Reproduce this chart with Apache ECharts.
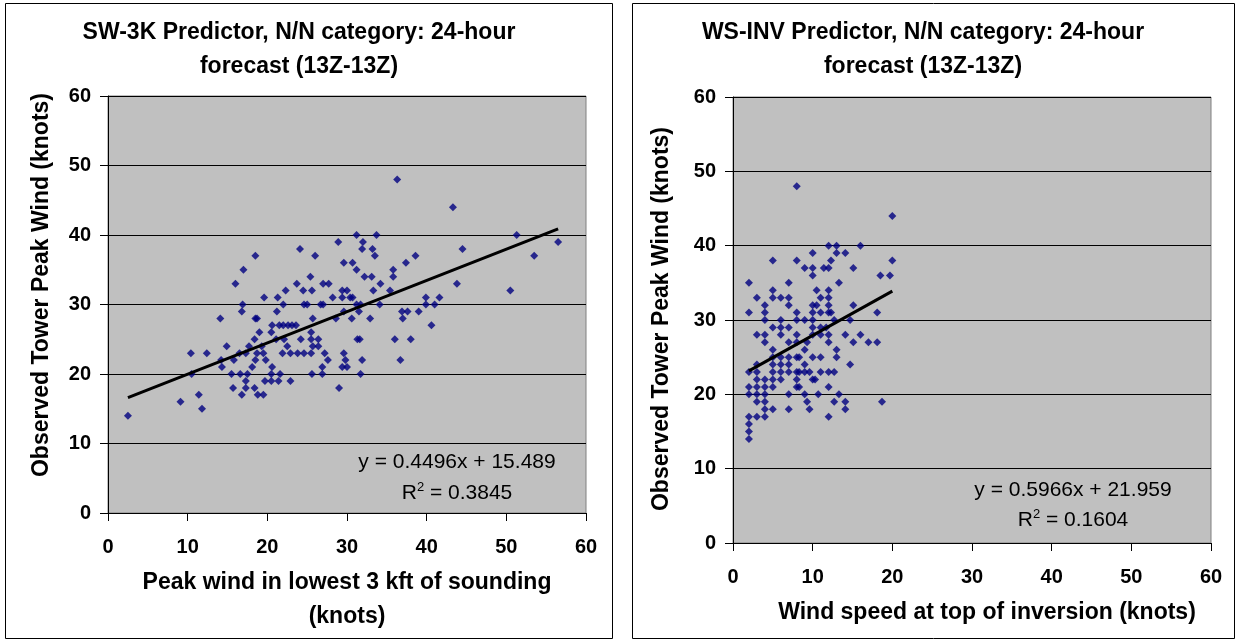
<!DOCTYPE html>
<html>
<head>
<meta charset="utf-8">
<script src="https://cdn.jsdelivr.net/npm/echarts@6/dist/echarts.min.js"></script>
<style>
html,body{margin:0;padding:0;background:#fff;}
#c{width:1238px;height:642px;}
</style>
</head>
<body>
<div id="c"></div>
<script>
// ---------- DATA ----------
var leftTitle = 'SW-3K Predictor, N/N category: 24-hour\nforecast (13Z-13Z)';
var rightTitle = 'WS-INV Predictor, N/N category: 24-hour\nforecast (13Z-13Z)';
var yAxisTitle = 'Observed Tower Peak Wind (knots)';
var leftXTitle = 'Peak wind in lowest 3 kft of sounding\n(knots)';
var rightXTitle = 'Wind speed at top of inversion (knots)';
var axisTicks = [0, 10, 20, 30, 40, 50, 60];

// SW-3K scatter: peak wind in lowest 3 kft (x) vs observed tower peak wind (y)
var sw3kX = [2.5,9.1,11.4,11.8,10.4,10.5,12.4,14.1,14.2,14.3,14.9,15.5,15.7,15.8,16.0,16.5,16.6,16.8,16.9,16.8,
  17.0,17.3,17.3,17.3,17.5,17.7,18.1,18.4,18.4,18.5,18.5,18.7,18.5,19.0,18.8,19.5,18.7,19.5,19.3,19.6,
  19.8,19.7,20.5,20.5,20.5,20.6,20.6,21.2,21.3,21.1,21.5,21.6,21.4,21.9,22.0,22.0,22.1,22.3,22.6,22.5,
  22.9,22.9,23.1,23.7,23.6,23.8,24.1,24.2,24.5,24.6,25.0,24.6,25.5,25.5,25.5,25.6,25.6,25.7,26.0,25.4,
  25.7,26.4,26.4,26.7,27.0,27.0,27.7,26.9,26.9,27.2,27.6,
  28.9,28.2,28.6,29.0,29.6,29.4,30.0,29.4,30.4,30.7,29.6,29.6,29.8,29.4,30.0,30.7,31.2,31.2,32.0,31.9,
  32.2,33.1,33.2,33.5,33.7,33.3,34.2,31.2,31.7,31.5,30.6,32.9,34.1,31.3,31.6,31.9,31.7,35.4,35.8,35.8,
  36.3,37.4,38.6,36.0,36.7,36.9,37.6,37.0,38.0,39.0,39.9,39.9,40.6,41.0,41.6,43.3,44.5,43.8,50.5,51.3,
  53.5,56.5];
var sw3kY = [14,16,17,15,23,20,23,28,22,21,24,20,18,22,33,23,20,17,30,29,
  35,23,19,18,20,24,21,18,25,37,28,28,22,26,17,17,23,23,24,31,
  22,19,26,20,19,21,27,29,31,25,27,20,19,23,30,27,25,32,27,24,
  23,19,27,33,27,23,38,25,32,30,30,23,23,26,25,20,32,28,37,34,
  24,25,24,30,30,33,33,21,20,23,22,
  39,31,28,18,36,32,32,31,31,31,29,23,22,21,21,36,40,35,39,38,
  34,34,38,37,40,32,33,30,30,29,28,28,30,25,25,22,20,32,35,34,
  48,36,37,25,22,29,29,28,25,29,31,30,27,30,31,44,38,33,32,40,
  37,39];
var sw3kSlope = 0.4496, sw3kIntercept = 15.489;
var sw3kEq = 'y = 0.4496x + 15.489', sw3kR2 = '0.3845';

// WS-INV scatter: wind speed at top of inversion (x) vs observed tower peak wind (y)
var wsinvX = [2,2,2,2,2,2,2,2,2,
  3,3,3,3,3,3,3,3,3,
  4,4,4,4,4,4,4,4,4,4,4,
  5,5,5,5,5,5,5,5,5,5,5,
  6,6,6,6,6,6,6,6,
  7,7,7,7,7,7,7,7,7,7,
  8,8,8,8,8,8,8,8,8,8,
  8.3,8.3,8.3,
  9,9,9,9,9,9,
  9.3,9.3,9.6,9.6,
  10,10,10,10,10,10,10,10,10,10,
  10.3,10.5,10.5,10.7,
  11,11,11,11,11,11,
  11.4,11.7,
  12,12,12,12,12,12,12,12,12,12,12,
  12.3,12.3,12.7,12.7,12.7,
  13,13,13,13,13.3,13.3,
  14.1,14.1,14.1,14.1,14.7,14.7,
  15.1,15.1,15.1,16,16,17,18.1,18.1,18.5,18.7,19.7,20,20];
var wsinvY = [35,31,23,21,20,17,16,15,14,
  33,28,24,23,22,21,20,19,17,
  32,31,30,28,27,22,21,20,19,18,17,
  38,34,33,29,26,25,24,23,22,21,18,
  33,30,29,28,25,24,23,22,
  35,33,32,29,27,25,24,23,20,18,
  48,38,31,30,28,27,25,23,22,21,
  25,21,23,
  37,30,26,24,23,20,
  27,19,23,18,
  39,37,36,32,31,30,29,28,25,22,
  22,34,32,20,
  33,31,29,28,25,23,
  37,29,
  40,37,34,33,32,31,28,27,23,21,17,
  38,31,30,23,19,
  40,39,26,25,35,20,
  39,28,19,18,24,30,
  37,32,27,40,28,27,31,27,36,19,36,44,38];
var wsinvSlope = 0.5966, wsinvIntercept = 21.959;
var wsinvEq = 'y = 0.5966x + 21.959', wsinvR2 = '0.1604';

// ---------- CHART ----------
function pairs(xs, ys){ return xs.map(function(x,i){ return [x, ys[i]]; }); }
function trend(xs, a, b){
  var lo = Math.min.apply(null, xs), hi = Math.max.apply(null, xs);
  return [[lo, a*lo + b], [hi, a*hi + b]];
}
var FONT = '"Liberation Sans", Arial, sans-serif';
var tickStyle = {fontFamily: FONT, fontWeight: 'bold', fontSize: 20, color: '#000'};
var BOLD23 = 'bold 23px ' + FONT;
var EQF = '21px ' + FONT;

function xAx(idx){
  return {
    type: 'value', gridIndex: idx, min: 0, max: 60, interval: 10,
    axisLine: {show: true, lineStyle: {color: '#000', width: 1}},
    axisTick: {show: true, inside: false, length: 8, lineStyle: {color: '#000'}},
    axisLabel: Object.assign({margin: 24}, tickStyle),
    splitLine: {show: false}
  };
}
function yAx(idx){
  return {
    type: 'value', gridIndex: idx, min: 0, max: 60, interval: 10,
    axisLine: {show: true, lineStyle: {color: '#000', width: 1}},
    axisTick: {show: true, inside: false, length: 8, lineStyle: {color: '#000'}},
    axisLabel: Object.assign({margin: 17}, tickStyle),
    splitLine: {show: true, lineStyle: {color: '#000', width: 1}}
  };
}
function txt(x, y, text, font, rot){
  return {type: 'text', x: x, y: y, rotation: rot || 0, z: 10, silent: true,
    style: {text: text, font: font, fill: '#000', align: 'center', verticalAlign: 'middle', lineHeight: 34}};
}
function r2(x, y, val){
  return {type: 'text', x: x, y: y, z: 10, silent: true,
    style: {text: '{r|R}{s|2}{r| = ' + val + '}', align: 'center', verticalAlign: 'middle', fill: '#000',
      rich: {r: {font: EQF, fill: '#000', lineHeight: 24}, s: {font: '13px ' + FONT, fill: '#000', lineHeight: 24, verticalAlign: 'top', padding: [0, 0, 10, 0]}}}};
}

var chart = echarts.init(document.getElementById('c'), null, {renderer: 'canvas'});
chart.setOption({
  backgroundColor: '#fff',
  animation: false,
  grid: [
    {left: 108, top: 96, width: 478, height: 417, show: true, backgroundColor: '#C0C0C0', borderColor: '#808080', borderWidth: 1, containLabel: false, outerBoundsMode: 'none'},
    {left: 733, top: 97, width: 478, height: 446, show: true, backgroundColor: '#C0C0C0', borderColor: '#808080', borderWidth: 1, containLabel: false, outerBoundsMode: 'none'}
  ],
  xAxis: [xAx(0), xAx(1)],
  yAxis: [yAx(0), yAx(1)],
  series: [
    {type: 'scatter', xAxisIndex: 0, yAxisIndex: 0, data: pairs(sw3kX, sw3kY),
     symbol: 'diamond', symbolSize: 8, itemStyle: {color: '#000080'}, z: 3},
    {type: 'line', xAxisIndex: 0, yAxisIndex: 0, data: trend(sw3kX, sw3kSlope, sw3kIntercept),
     symbol: 'none', lineStyle: {color: '#000', width: 3}, z: 4},
    {type: 'scatter', xAxisIndex: 1, yAxisIndex: 1, data: pairs(wsinvX, wsinvY),
     symbol: 'diamond', symbolSize: 8, itemStyle: {color: '#000080'}, z: 3},
    {type: 'line', xAxisIndex: 1, yAxisIndex: 1, data: trend(wsinvX, wsinvSlope, wsinvIntercept),
     symbol: 'none', lineStyle: {color: '#000', width: 3}, z: 4}
  ],
  graphic: [
    {type: 'rect', shape: {x: 5.5, y: 3.5, width: 607, height: 635}, style: {fill: 'none', stroke: '#000', lineWidth: 1}, silent: true, z: 0},
    {type: 'rect', shape: {x: 632.5, y: 3.5, width: 602, height: 635}, style: {fill: 'none', stroke: '#000', lineWidth: 1}, silent: true, z: 0},
    // chart titles
    txt(299, 49.5, leftTitle, BOLD23),
    txt(923, 49.5, rightTitle, BOLD23),
    // y-axis titles (rotated)
    txt(42, 285, yAxisTitle, BOLD23, Math.PI / 2),
    txt(662, 319, yAxisTitle, BOLD23, Math.PI / 2),
    // x-axis titles
    txt(347, 600, leftXTitle, BOLD23),
    txt(987, 613, rightXTitle, BOLD23),
    // trendline equations
    txt(457, 462, sw3kEq, EQF),
    r2(457, 493, sw3kR2),
    txt(1073, 490, wsinvEq, EQF),
    r2(1073, 520, wsinvR2)
  ]
});
</script>
</body>
</html>
